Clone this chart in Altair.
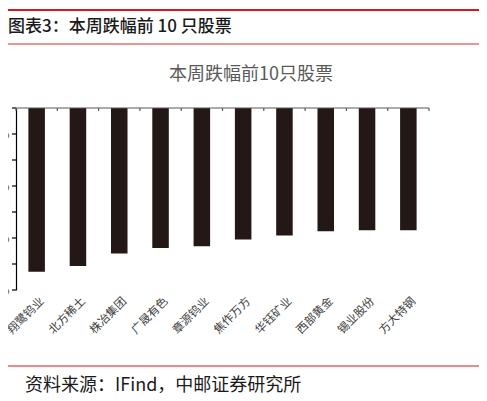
import altair as alt
import pandas as pd

names = ["翔鹭钨业", "北方稀土", "株冶集团", "广晟有色", "章源钨业",
         "焦作万方", "华钰矿业", "西部黄金", "锡业股份", "方大特钢"]
changes = [-31.5, -30.4, -28.0, -26.9, -26.6, -25.3, -24.5, -23.7, -23.5, -23.5]
y_ticks = [0, -5, -10, -15, -20, -25, -30, -35]

header = "图表3：本周跌幅前 10 只股票"
chart_title = "本周跌幅前10只股票"
source = "资料来源：IFind，中邮证券研究所"

FONT = "Noto Sans CJK SC"
W, H = 413, 182
STEP = W / 10.0
HALF_GAP = STEP * 0.6 / 2

df = pd.DataFrame({"name": names, "change": changes})
tick_df = pd.DataFrame({"tick": y_ticks})
one = pd.DataFrame({"k": [0]})

xscale = alt.Scale(paddingInner=0.6, paddingOuter=0.3)

bars = alt.Chart(df).mark_bar(color="#231815").encode(
    x=alt.X("name:N", sort=None, scale=xscale,
            axis=alt.Axis(orient="bottom", labelAngle=-45, domain=False, ticks=False,
                          labelPadding=5, labelOffset=1.5, title=None, labelFont=FONT,
                          labelFontSize=11.5, labelColor="#404040")),
    y=alt.Y("change:Q", scale=alt.Scale(domain=[-35, 0], nice=False),
            axis=alt.Axis(values=y_ticks, grid=False, title=None, ticks=False,
                          domainColor="#000000", domainWidth=1.2,
                          labelExpr="datum.value + '%'", labelPadding=7,
                          labelOverlap=False,
                          labelFont=FONT, labelFontSize=11, labelColor="#404040")),
)

y_tick_marks = alt.Chart(tick_df).mark_rule(color="#000000", strokeWidth=1.2).encode(
    y=alt.Y("tick:Q"), x=alt.value(-4), x2=alt.value(0))

zero_line = alt.Chart(one).mark_rule(color="#595959", strokeWidth=1.2).encode(
    x=alt.value(0), x2=alt.value(W), y=alt.datum(0))

sep_ticks = alt.Chart(df).mark_rule(color="#595959", strokeWidth=1.2,
                                    xOffset=-HALF_GAP).encode(
    x=alt.X("name:N", sort=None, bandPosition=0),
    y=alt.datum(0), y2=alt.value(3))

end_tick = alt.Chart(one).mark_rule(color="#595959", strokeWidth=1.2).encode(
    x=alt.value(W), y=alt.value(0), y2=alt.value(3))

line1 = alt.Chart(one).mark_rule(color="#d7161e", strokeWidth=2).encode(
    x=alt.value(-8), x2=alt.value(465), y=alt.value(-98))
line2 = alt.Chart(one).mark_rule(color="#e37272", strokeWidth=1.5).encode(
    x=alt.value(-8), x2=alt.value(465), y=alt.value(-64))
line3 = alt.Chart(one).mark_rule(color="#d7161e", strokeWidth=1).encode(
    x=alt.value(-8), x2=alt.value(465), y=alt.value(258))

t_header = alt.Chart(one).mark_text(text=header, font=FONT, fontSize=17,
                                    align="left", baseline="middle",
                                    color="#1a1a1a", fontWeight=500).encode(
    x=alt.value(-8), y=alt.value(-81))
t_title = alt.Chart(one).mark_text(text=chart_title, font=FONT, fontSize=18,
                                   align="center", baseline="middle",
                                   color="#595959").encode(
    x=alt.value(235), y=alt.value(-33))
t_source = alt.Chart(one).mark_text(text=source, font=FONT, fontSize=18,
                                    align="left", baseline="middle",
                                    color="#1a1a1a").encode(
    x=alt.value(9), y=alt.value(278))

chart = alt.layer(bars, y_tick_marks, zero_line, sep_ticks, end_tick,
                  line1, line2, line3, t_header, t_title, t_source).properties(
    width=W, height=H,
    autosize=alt.AutoSizeParams(type="none"),
    padding={"left": 8, "top": 100, "right": 50, "bottom": 103},
    background="white",
).configure_view(stroke=None)

chart.save("out.html", embed_options={"renderer": "svg", "actions": False})
